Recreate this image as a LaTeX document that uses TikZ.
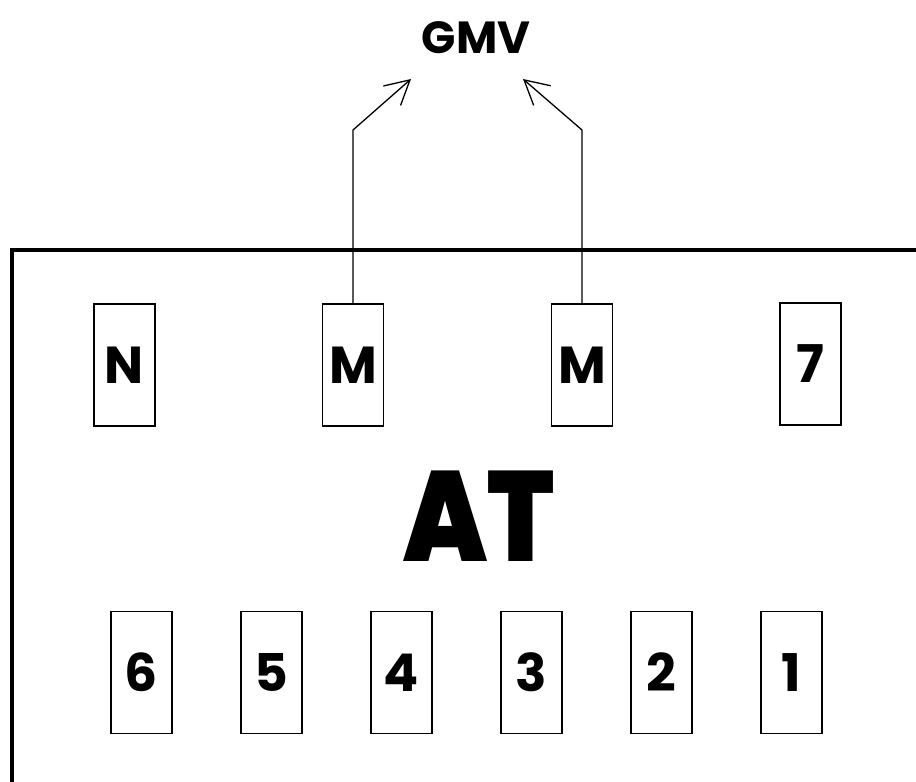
\documentclass[tikz,border=0pt]{standalone}
\usepackage{fontspec}
\setmainfont{Poppins}[BoldFont=* Bold]
\newfontfamily\heavyfont{Poppins}[UprightFont=* Black]
\usetikzlibrary{arrows.meta}
\tikzset{
  pin box/.style={draw, line width=1.5pt, minimum width=61pt, minimum height=122pt, inner sep=0pt,
    font=\fontsize{52}{52}\selectfont\bfseries},
  frame line/.style={line width=3.5pt},
  link/.style={line width=1.3pt, -{Straight Barb[length=24pt,width=26pt,line width=1.3pt]}},
}
\begin{document}
\begin{tikzpicture}[x=1pt,y=-1pt]
\useasboundingbox (0,0) rectangle (916,782);
% frame
\coordinate (fr1) at (12,782);
\coordinate (fr2) at (12,250);
\coordinate (fr3) at (920,250);
\draw[frame line] (fr1) -- (fr2) -- (fr3);
% title
\node[font=\fontsize{45}{45}\selectfont\bfseries, inner sep=0pt] (gmv) at (476,38) {GMV};
\node[font=\fontsize{128}{128}\selectfont\heavyfont, inner sep=0pt, xscale=0.85] (at) at (479,516) {AT};
% top row
\node[pin box] (n) at (124.5,365) {N};
\node[pin box] (m1) at (353,365) {M};
\node[pin box] (m2) at (582,365) {M};
\node[pin box] (p7) at (810.5,364) {7};
% bottom row
\node[pin box] (p6) at (141.5,672.5) {6};
\node[pin box] (p5) at (271.5,672.5) {5};
\node[pin box] (p4) at (401.5,672.5) {4};
\node[pin box] (p3) at (531.5,672.5) {3};
\node[pin box] (p2) at (661.5,672.5) {2};
\node[pin box] (p1) at (791.5,672.5) {1};
% connectors
\coordinate (k1) at (353,130);
\coordinate (t1) at (411,79);
\coordinate (k2) at (582,130);
\coordinate (t2) at (523,79);
\draw[link] (m1.north) -- (k1) -- (t1);
\draw[link] (m2.north) -- (k2) -- (t2);
\end{tikzpicture}
\end{document}
